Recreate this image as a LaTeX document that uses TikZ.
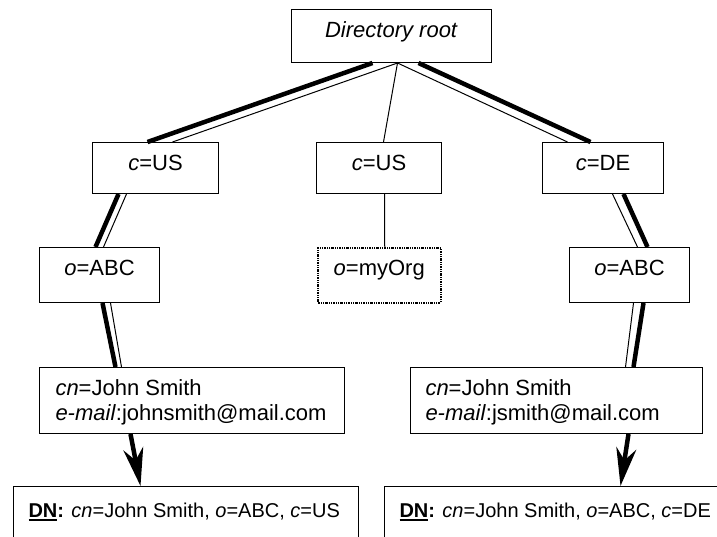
\documentclass[tikz,border=0pt]{standalone}
\usepackage{fontspec}
\setmainfont{Liberation Sans}
\usetikzlibrary{arrows.meta}
\newcommand\thickul[1]{\leavevmode\vtop{\hbox{#1}\kern1.2pt\hrule height 2.4pt}}
\begin{document}
\begin{tikzpicture}[x=1pt,y=-1pt,
  box/.style={draw, line width=1pt, inner sep=0pt, text height=28pt, anchor=north west,
    font=\fontsize{22}{25}\selectfont},
  dnbox/.style={box, text height=31pt, text depth=60pt, font=\fontsize{20}{24}\selectfont},
  dotbox/.style={box, dash pattern=on 2.5pt off 1pt on 1pt off 1pt on 1pt off 1pt, line width=1.5pt},
  thickln/.style={line width=4.5pt},
  thinln/.style={line width=1pt},
  arrowln/.style={line width=4.5pt, -{Stealth[length=38pt,width=20pt,inset=12pt]}}]
\useasboundingbox (0,0) rectangle (717,536);
\clip (0,0) rectangle (717,536);
% nodes
\node[box, minimum width=200pt, text depth=25pt] (root) at (291,9) {\textit{Directory root}};
\node[box, minimum width=126pt, text depth=23pt] (cUSL) at (92,142) {\textit{c}=US};
\node[box, minimum width=125pt, text depth=23pt] (cUSM) at (316,142) {\textit{c}=US};
\node[box, minimum width=121pt, text depth=23pt] (cDE) at (542,142) {\textit{c}=DE};
\node[box, minimum width=120pt, text depth=27pt] (oABCL) at (39,247) {\textit{o}=ABC};
\node[dotbox, minimum width=123pt, text depth=27pt] (oOrg) at (317,247) {\textit{o}=myOrg};
\node[box, minimum width=120pt, text depth=27pt] (oABCR) at (569,247) {\textit{o}=ABC};
\node[box, minimum width=305pt, text depth=38pt] (cnL) at (39,367)
  {\parbox[t]{273pt}{\textit{cn}=John Smith\\\textit{e-mail}:johnsmith@mail.com}};
\node[box, minimum width=292pt, text depth=38pt] (cnR) at (410,367)
  {\parbox[t]{262pt}{\textit{cn}=John Smith\\\textit{e-mail}:jsmith@mail.com}};
\node[dnbox, minimum width=345pt] (dnL) at (13,486)
  {\makebox[315pt][l]{\thickul{\textbf{DN}}\textbf{:} \textit{cn}=John Smith, \textit{o}=ABC, \textit{c}=US}};
\node[dnbox, minimum width=360pt] (dnR) at (384,486)
  {\makebox[330pt][l]{\thickul{\textbf{DN}}\textbf{:} \textit{cn}=John Smith, \textit{o}=ABC, \textit{c}=DE}};
% connectors from root
\draw[thickln] ([xshift=-19]root.south) -- ([xshift=-8]cUSL.north);
\draw[thinln] ([xshift=6]root.south) -- ([xshift=17]cUSL.north);
\draw[thinln] ([xshift=6]root.south) -- ([xshift=4.5]cUSM.north);
\draw[thinln] ([xshift=6]root.south) -- ([xshift=-35.5]cDE.north);
\draw[thickln] ([xshift=27]root.south) -- ([xshift=-12.5]cDE.north);
% middle
\draw[thinln] ([xshift=5.5]cUSM.south) -- ([xshift=5.5]oOrg.north);
% left branch
\draw[thickln] ([xshift=-37]cUSL.south) -- ([xshift=-4]oABCL.north);
\draw[thinln] ([xshift=-29]cUSL.south) -- ([xshift=4]oABCL.north);
\draw[thickln] ([xshift=3]oABCL.south) -- ([xshift=-76.5]cnL.north);
\draw[thinln] ([xshift=11]oABCL.south) -- ([xshift=-70.5]cnL.north);
\draw[arrowln] ([xshift=-61.5]cnL.south) -- ([xshift=-45.5]dnL.north);
% right branch
\draw[thinln] ([xshift=9.5]cDE.south) -- ([xshift=8]oABCR.north);
\draw[thickln] ([xshift=20.5]cDE.south) -- ([xshift=18]oABCR.north);
\draw[thinln] ([xshift=4]oABCR.south) -- ([xshift=69]cnR.north);
\draw[thickln] ([xshift=14]oABCR.south) -- ([xshift=77]cnR.north);
\draw[arrowln] ([xshift=72]cnR.south) -- ([xshift=56]dnR.north);
\end{tikzpicture}
\end{document}
